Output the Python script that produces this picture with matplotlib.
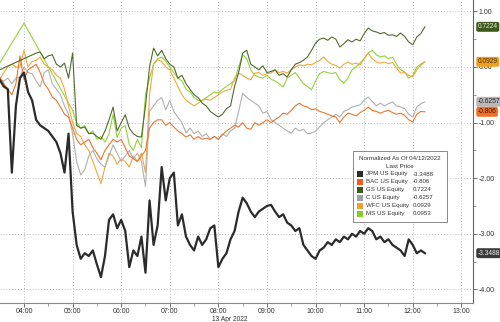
import numpy as np
import matplotlib
matplotlib.use("Agg")
import matplotlib.pyplot as plt
from matplotlib.patches import Rectangle
from matplotlib.ticker import MultipleLocator, FixedLocator
import matplotlib.transforms as mtransforms

plt.rcParams['font.family'] = ['Liberation Sans', 'DejaVu Sans']
plt.rcParams['axes.unicode_minus'] = False

nan = np.nan

# 5-minute bars starting 03:30, normalized as of 04/12/2022 close
start_hour = 3.5
step_min = 5

jpm = [-0.23, -0.35, -0.40, -1.90, -0.70, -0.20, -0.10, -0.45, -0.60, -0.95,
       -1.05, -1.10, -1.15, -1.25, -1.35, -1.55, -1.90, -1.20, -2.60, -3.20,
       -3.45, -3.35, -3.40, -3.30, -3.55, -3.78, -3.40, -2.75, -2.65, -2.90,
       -2.75, -2.95, -3.60, -3.30, -3.40, -3.05, -3.70, -2.40, -3.20, -2.85,
       -1.80, -2.40, -2.00, -1.90, -2.85, -2.65, -3.05, -3.20, -3.30, -3.05,
       -3.20, -3.10, -2.90, -2.85, -3.60, -3.45, -3.35, -3.10, -2.95, -2.60,
       -2.35, -2.45, -2.60, -2.70, -2.60, -2.55, -2.50, -2.48, -2.60, -2.70,
       -2.65, -2.80, -2.85, -2.95, -2.90, -3.20, -3.30, -3.40, -3.45, -3.30,
       -3.25, -3.15, -3.20, -3.10, -3.15, -3.05, -3.10, -3.00, -3.05, -2.95,
       -3.00, -2.90, -2.95, -3.10, -3.05, -3.15, -3.10, -3.20, -3.25, -3.30,
       -3.40, -3.10, -3.20, -3.35, -3.30, -3.3488]

gs = [-0.05, nan, nan, nan, nan, nan, nan, nan, nan, 0.25,
      0.27, 0.15, 0.20, 0.22, 0.05, 0.00, 0.07, -0.20, 0.25, -1.05,
      -1.10, -1.08, -1.20, -1.19, -1.25, -1.30, -1.15, -0.95, -0.72, -1.15,
      -1.00, -0.86, -1.10, -1.20, -1.25, -1.26, -0.70, 0.00, 0.34, 0.20,
      0.30, 0.15, 0.05, 0.00, -0.20, -0.15, -0.30, -0.40, -0.50, -0.55,
      -0.65, -0.70, -0.80, -0.85, -0.90, -0.85, -0.75, -0.70, -0.35, -0.10,
      0.25, 0.30, 0.05, 0.00, -0.05, 0.02, -0.10, -0.08, -0.05, -0.15,
      -0.12, -0.18, -0.05, 0.05, 0.08, 0.12, 0.18, 0.30, 0.43, 0.50,
      0.52, 0.48, 0.54, 0.50, 0.36, 0.42, 0.49, 0.45, 0.50, 0.47,
      0.60, 0.70, 0.65, 0.63, 0.60, 0.62, 0.57, 0.58, 0.55, 0.61,
      0.55, 0.45, 0.40, 0.54, 0.60, 0.7224]

ms = [0.07, nan, nan, nan, nan, nan, 0.79, nan, nan, nan,
      nan, nan, nan, nan, nan, nan, nan, nan, -0.78, -1.00,
      -1.10, -1.05, -1.20, -1.15, -1.30, -1.25, -1.35, -1.20, -0.85, -1.27,
      -1.10, -1.05, -1.40, -1.50, -1.30, -1.45, -0.50, -0.20, 0.05, 0.15,
      0.18, 0.10, 0.00, -0.10, -0.20, -0.25, -0.40, -0.45, -0.55, -0.60,
      -0.60, -0.55, -0.50, -0.45, -0.47, -0.40, -0.35, -0.30, -0.25, 0.00,
      0.22, 0.15, -0.05, -0.15, -0.18, -0.20, -0.15, -0.22, -0.25, -0.30,
      -0.36, -0.20, -0.15, -0.10, -0.20, -0.30, -0.35, -0.41, -0.25, -0.12,
      -0.08, -0.10, -0.12, -0.10, -0.23, -0.29, -0.20, -0.05, 0.00, 0.07,
      0.15, 0.25, 0.30, 0.22, 0.18, 0.20, 0.15, 0.18, 0.05, -0.05,
      -0.09, -0.20, -0.15, 0.00, 0.05, 0.0953]

wfc = [-0.23, -0.10, 0.00, 0.05, 0.00, 0.00, 0.30, 0.00, 0.10, 0.12,
       0.18, 0.05, 0.00, -0.05, -0.15, -0.20, -0.40, -0.70, -1.00, -1.20,
       -1.25, -1.40, -1.50, -1.70, -1.90, -2.10, -1.80, -1.55, -1.60, -1.75,
       -1.65, -1.70, -1.80, -1.60, -1.70, -1.55, -1.90, -0.50, 0.05, 0.13,
       0.10, 0.00, -0.05, -0.20, -0.35, -0.50, -0.60, -0.65, -0.70, -0.65,
       -0.60, -0.58, -0.60, -0.55, -0.50, -0.45, -0.42, -0.40, -0.20, -0.11,
       -0.15, -0.20, -0.23, -0.11, -0.10, -0.15, -0.12, -0.11, -0.05, -0.10,
       -0.08, -0.11, -0.05, 0.00, 0.04, 0.02, 0.05, 0.04, 0.08, 0.12,
       0.18, 0.10, 0.05, 0.03, -0.02, 0.05, 0.09, 0.05, 0.07, 0.04,
       0.15, 0.25, 0.15, 0.09, 0.07, 0.09, 0.06, 0.08, -0.02, -0.11,
       -0.10, -0.15, -0.18, -0.05, 0.03, 0.0929]

c = [-0.23, -0.25, -0.20, -0.30, -0.20, -0.18, 0.00, -0.10, -0.12, -0.25,
     -0.36, -0.10, -0.05, -0.30, -0.40, -0.50, -0.70, -0.85, -1.20, -1.70,
     -1.94, -1.85, -1.60, -1.50, -1.65, -1.75, -1.80, -1.60, -1.40, -1.55,
     -1.70, -1.60, -1.50, -1.65, -1.55, -1.70, -2.15, -0.80, -0.70, -0.60,
     -0.55, -0.77, -0.60, -0.80, -0.90, -1.00, -1.19, -1.10, -1.20, -1.15,
     -1.25, -1.20, -1.30, -1.25, -1.30, -1.20, -1.25, -1.15, -1.10, -0.80,
     -0.47, -0.55, -0.60, -0.65, -0.70, -0.83, -0.80, -0.95, -1.00, -1.05,
     -1.10, -1.15, -1.19, -1.10, -1.15, -1.12, -1.20, -1.19, -1.15, -1.08,
     -1.00, -0.95, -0.90, -0.85, -0.90, -0.80, -0.77, -0.72, -0.70, -0.68,
     -0.60, -0.54, -0.62, -0.70, -0.65, -0.70, -0.66, -0.63, -0.70, -0.72,
     -0.75, -0.85, -0.90, -0.72, -0.66, -0.6257]

bac = [-0.18, -0.30, -0.40, -0.50, -0.30, 0.20, -0.23, -0.05, 0.00, 0.05,
       -0.10, -0.30, -0.40, -0.54, -0.60, -0.72, -0.85, -0.90, -1.10, -1.30,
       -1.40, -1.35, -1.30, -1.45, -1.55, -1.67, -1.50, -1.40, -1.30, -1.35,
       -1.30, -1.45, -1.60, -1.65, -1.70, -1.60, -1.50, -1.10, -1.00, -0.95,
       -0.95, -1.05, -1.00, -1.08, -1.15, -1.20, -1.26, -1.22, -1.30, -1.25,
       -1.30, -1.28, -1.30, -1.25, -1.30, -1.22, -1.15, -1.10, -1.05, -1.08,
       -1.00, -1.10, -1.12, -1.00, -1.05, -1.00, -0.95, -1.00, -0.95, -0.90,
       -0.83, -0.85, -0.78, -0.70, -0.65, -0.70, -0.72, -0.77, -0.75, -0.80,
       -0.82, -0.85, -0.88, -0.90, -1.00, -0.90, -0.83, -0.85, -0.88, -0.82,
       -0.78, -0.72, -0.78, -0.80, -0.83, -0.80, -0.78, -0.82, -0.85, -0.83,
       -0.87, -0.95, -0.99, -0.85, -0.80, -0.806]

names = ['JPM US Equity', 'BAC US Equity', 'GS US Equity',
         'C US Equity', 'WFC US Equity', 'MS US Equity']
last_labels = ['-3.3488', '-0.806', '0.7224', '-0.6257', '0.0929', '0.0953']

series = {'JPM': jpm, 'BAC': bac, 'GS': gs, 'C': c, 'WFC': wfc, 'MS': ms}
colors = {'JPM': '#2b2b2b', 'BAC': '#e9772f', 'GS': '#4f6b2c',
          'C': '#b0b0b0', 'WFC': '#f2a83a', 'MS': '#94d23c'}
legend_colors = ['#2b2b2b', '#f05a1e', '#3d5a1e', '#a0a0a0', '#f0a030', '#86cc2c']

t = start_hour + np.arange(len(jpm)) * step_min / 60.0

W, H = 500, 322
fig = plt.figure(figsize=(W / 100, H / 100), dpi=100)
ax = fig.add_axes([0, 1 - 303 / H, 473 / W, 303 / H])

draw_order = ['MS', 'WFC', 'C', 'BAC', 'GS', 'JPM']
for key in draw_order:
    v = np.array(series[key], dtype=float)
    ok = ~np.isnan(v)
    lw = 1.6 if key == 'JPM' else 0.8
    ax.plot(t[ok], v[ok], color=colors[key], lw=lw, zorder=5 if key == 'JPM' else 3)

ax.set_xlim(3.506, 13.24)
ax.set_ylim(-4.245, 1.205)

# axes styling
for s in ['left', 'top']:
    ax.spines[s].set_visible(False)
ax.spines['right'].set_color('#666666')
ax.spines['bottom'].set_color('#888888')
ax.spines['right'].set_linewidth(0.8)
ax.spines['bottom'].set_linewidth(0.8)

ax.yaxis.tick_right()
yt = [1, 0, -1, -2, -3, -4]
ax.set_yticks(yt)
ax.set_yticklabels([f"{v:.2f}" for v in yt])
ax.yaxis.set_minor_locator(MultipleLocator(0.5))
hours = list(range(4, 14))
ax.set_xticks(hours)
ax.set_xticklabels([f"{h:02d}:00" for h in hours])
ax.xaxis.set_minor_locator(FixedLocator([h + 0.5 for h in range(3, 14)]))

ax.tick_params(axis='both', which='major', labelsize=5, colors='#555555',
               labelcolor='#333333', length=3, width=0.6, pad=1.2)
ax.tick_params(axis='x', which='major', pad=0.8)
ax.tick_params(axis='both', which='minor', length=2, width=0.5, colors='#777777')
ax.grid(True, which='major', ls=(0, (1, 2)), color='#b8b8b8', lw=0.7)
ax.set_axisbelow(True)

fig.text(212 / W, 1 - 319.5 / H, '13 Apr 2022', fontsize=4.8, color='#333333',
         ha='left', va='center')

# last-value tags on the right axis
tag_specs = [('0.7224', 0.7224, '#3d5a1e', '#e8f0d8'),
             ('0.0929', 0.0929, '#f0a020', '#4a3000'),
             ('-0.6257', -0.6257, '#b8b8b8', '#222222'),
             ('-0.806', -0.806, '#f07028', '#3a1500'),
             ('-3.3488', -3.3488, '#3a3a3a', '#f0f0f0')]
trans = mtransforms.blended_transform_factory(ax.transAxes, ax.transData)
for txt, val, bg, fg in tag_specs:
    ax.text(1.01, val, txt, transform=trans, fontsize=4.8, color=fg,
            ha='left', va='center', clip_on=False, zorder=10,
            bbox=dict(boxstyle='round,pad=0.22,rounding_size=0.3', fc=bg, ec='none'))

# legend box
def fx(x):
    return x / W


def fy(y):
    return 1 - y / H


fig.patches.append(Rectangle((fx(353), fy(222)), 94 / W, 71 / H,
                             transform=fig.transFigure, fc='white',
                             ec='#8a8a8a', lw=0.7, zorder=20))
fig.text(fx(400), fy(158.5), 'Normalized As Of 04/12/2022', fontsize=4.5,
         color='#333333', ha='center', va='center', zorder=21)
fig.text(fx(400), fy(166), 'Last Price', fontsize=4.5, color='#333333',
         ha='center', va='center', zorder=21)
for i, (name, lab) in enumerate(zip(names, last_labels)):
    yy = 174 + i * 7.9
    fig.patches.append(Rectangle((fx(357), fy(yy + 3)), 6 / W, 6 / H,
                                 transform=fig.transFigure,
                                 fc=legend_colors[i], ec='none', zorder=21))
    fig.text(fx(366), fy(yy), name, fontsize=4.4, color='#333333',
             ha='left', va='center', zorder=21)
    fig.text(fx(413), fy(yy), lab, fontsize=4.4, color='#333333',
             ha='left', va='center', zorder=21)

fig.savefig('out.png', dpi=100)
